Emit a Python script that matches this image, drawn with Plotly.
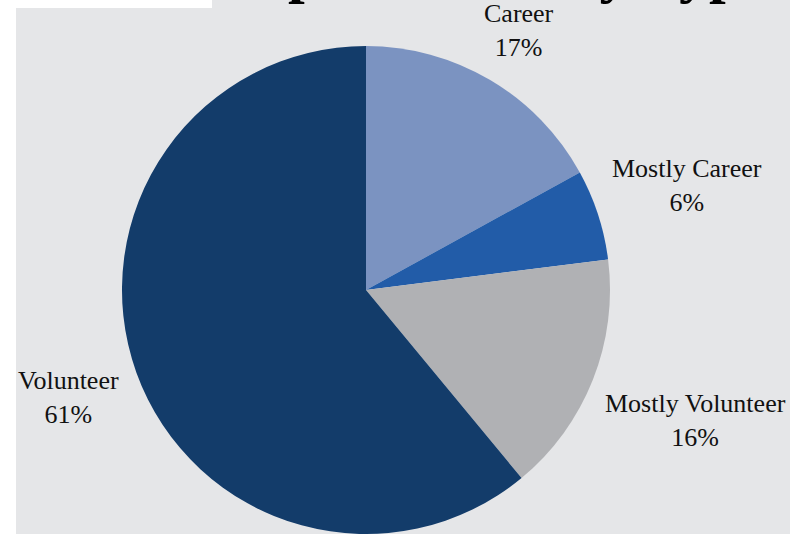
import math
import plotly.graph_objects as go

categories = ["Career", "Mostly Career", "Mostly Volunteer", "Volunteer"]
shares = [17, 6, 16, 61]
colors = ["#7b93c1", "#225ca8", "#b0b1b4", "#133c6a"]
title_text = "Departments by Type"

W, H = 802, 534
BG = "#e5e6e8"
FONT = "Liberation Serif"
LABEL_SIZE = 26

# pie geometry (pixels)
DOM_X = [121 / W, 611 / W]
DOM_Y = [0, 0.9139]
CX = (DOM_X[0] + DOM_X[1]) / 2 * W
CY = (1 - (DOM_Y[0] + DOM_Y[1]) / 2) * H
R = min((DOM_X[1] - DOM_X[0]) * W, (DOM_Y[1] - DOM_Y[0]) * H) / 2
GAP = 13

# approximate Times/Liberation Serif advance widths (em)
ADV = {"C": .667, "a": .444, "r": .333, "e": .444, "M": .889, "o": .5, "s": .389,
       "t": .278, "l": .278, "y": .5, " ": .25, "V": .722, "u": .5, "n": .5, "%": .833}


def text_width(s, size):
    return sum(ADV.get(ch, .5) for ch in s) * size


fig = go.Figure(go.Pie(
    labels=categories,
    values=shares,
    sort=False,
    direction="clockwise",
    rotation=0,
    marker=dict(colors=colors, line=dict(width=0)),
    textinfo="none",
    domain=dict(x=DOM_X, y=DOM_Y),
    showlegend=False,
    hoverinfo="label+percent",
))

annotations = []
total = sum(shares)
cum = 0
for name, v in zip(categories, shares):
    mid = (cum + v / 2) / total * 2 * math.pi
    cum += v
    ux, uy = math.sin(mid), -math.cos(mid)
    pct = f"{round(100 * v / total)}%"
    w = max(text_width(name, LABEL_SIZE), text_width(pct, LABEL_SIZE))
    h = LABEL_SIZE * 1.3 + LABEL_SIZE * 1.1
    d = R + GAP + abs(ux) * w / 2 + abs(uy) * h / 2
    px, py = CX + d * ux, CY + d * uy
    annotations.append(dict(
        text=f"{name}<br>{pct}", xref="paper", yref="paper",
        x=px / W, y=1 - py / H, xanchor="center", yanchor="middle",
        showarrow=False, align="center",
        font=dict(family=FONT, size=LABEL_SIZE, color="#111111"),
    ))

annotations.append(dict(
    text="<b>" + title_text + "</b>", xref="paper", yref="paper",
    x=216 / W, y=1 - 6 / H, xanchor="left", yanchor="bottom",
    showarrow=False, font=dict(family=FONT, size=60, color="#000000"),
))

fig.update_layout(
    width=W, height=H,
    margin=dict(l=0, r=0, t=0, b=0),
    paper_bgcolor="white",
    plot_bgcolor="white",
    shapes=[
        dict(type="rect", xref="paper", yref="paper", x0=16 / W, x1=790 / W,
             y0=0, y1=1 - 8 / H, fillcolor=BG, line=dict(width=0), layer="below"),
        dict(type="rect", xref="paper", yref="paper", x0=212 / W, x1=790 / W,
             y0=1 - 8 / H, y1=1, fillcolor=BG, line=dict(width=0), layer="below"),
    ],
    annotations=annotations,
)

fig.write_html("out.html", config={"displayModeBar": False},
               post_script="document.body.style.margin='0';")
